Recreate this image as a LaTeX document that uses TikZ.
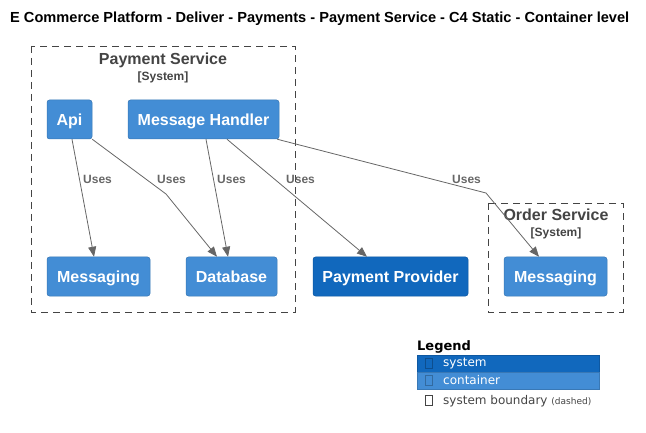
\documentclass[tikz,border=0pt]{standalone}
\usepackage{fontspec}
\setmainfont{Liberation Sans}
\newfontfamily\legendfont{DejaVu Sans}
\usetikzlibrary{arrows.meta}
\definecolor{contblue}{HTML}{438DD5}
\definecolor{sysblue}{HTML}{1168BD}
\definecolor{linegrey}{HTML}{666666}
\definecolor{textgrey}{HTML}{444444}

\begin{document}
\begin{tikzpicture}[x=1pt, y=-1pt,
	box/.style = {rounded corners=2.5pt, text=white, minimum height=39pt, inner sep=0pt, text height=11.5pt, text depth=0pt, font=\bfseries\fontsize{16}{19}\selectfont},
	container/.style = {box, fill=contblue, draw=contblue!85!black, line width=0.5pt},
	system/.style = {box, fill=sysblue, draw=sysblue!85!black, line width=0.5pt},
	boundary/.style = {draw=textgrey, line width=0.8pt, dash pattern=on 7pt off 5pt},
	btitle/.style = {text=textgrey, inner sep=0pt, text height=11.5pt, text depth=0pt, font=\bfseries\fontsize{16}{19}\selectfont},
	btype/.style = {text=textgrey, inner sep=0pt, text height=8.6pt, text depth=0pt, font=\bfseries\fontsize{12}{14}\selectfont},
	uses/.style = {draw=linegrey, line width=0.8pt, -{Triangle[length=10pt, width=8pt]}},
	usestext/.style = {anchor=west, inner sep=0pt, text height=8.6pt, text depth=0pt, text=linegrey, font=\bfseries\fontsize{12}{14}\selectfont},
	glyph/.style = {draw, minimum width=7pt, minimum height=10pt, inner sep=0pt, line width=0.5pt}]
		\useasboundingbox (0,0) rectangle (646,433);
		\node (title) [anchor=west, inner sep=0pt, font=\bfseries\fontsize{14.6}{17}\selectfont] at (10,19) {E Commerce Platform - Deliver - Payments - Payment Service - C4 Static - Container level};
		%
		\draw[boundary] (31,46) rectangle (295,312);
		\node (pstitle) [btitle] at (163,58.5) {Payment Service};
		\node (pstype) [btype] at (163,76) {[System]};
		\draw[boundary] (488,203) rectangle (623,312);
		\node (ostitle) [btitle] at (556,215) {Order Service};
		\node (ostype) [btype] at (556,232) {[System]};
		%
		\node (api) [container, minimum width=45pt] at (69.5,119.5) {Api};
		\node (handler) [container, minimum width=151pt] at (203.5,119.5) {Message Handler};
		\node (msgpay) [container, minimum width=103pt] at (98.5,276.5) {Messaging};
		\node (db) [container, minimum width=91pt] at (231.5,276.5) {Database};
		\node (provider) [system, minimum width=155pt] at (390.5,276.5) {Payment Provider};
		\node (msgorder) [container, minimum width=103pt] at (555.5,276.5) {Messaging};
		%
		\coordinate (bendA) at (166,194);
		\coordinate (bendB) at (486,193);
		\draw[uses] ([xshift=2.5pt]api.south) -- ([xshift=-4.5pt]msgpay.north);
		\draw[uses] (api.south east) -- (bendA) -- ([xshift=-14.5pt]db.north);
		\draw[uses] ([xshift=2.5pt]handler.south) -- ([xshift=-3.5pt]db.north);
		\draw[uses] ([xshift=23.5pt]handler.south) -- ([xshift=-23.5pt]provider.north);
		\draw[uses] ([xshift=-2pt]handler.south east) -- (bendB) -- ([xshift=-16.5pt]msgorder.north);
		\node (usesA) [usestext] at (83,179) {Uses};
		\node (usesB) [usestext] at (157,179) {Uses};
		\node (usesC) [usestext] at (217,179) {Uses};
		\node (usesD) [usestext] at (286,179) {Uses};
		\node (usesE) [usestext] at (452,179) {Uses};
		%
		\node (legend) [anchor=west, inner sep=0pt, font=\legendfont\bfseries\fontsize{13}{15}\selectfont] at (417,347) {Legend};
		\node (lsys) [fill=sysblue, draw=sysblue!85!black, line width=0.5pt, minimum width=182pt, minimum height=17pt, inner sep=0pt, anchor=north west] at (417,355) {};
		\node (lcont) [fill=contblue, draw=contblue!85!black, line width=0.5pt, minimum width=182pt, minimum height=17pt, inner sep=0pt, anchor=north west] at (417,372) {};
		\node (gsys) [glyph, draw=sysblue!75!black] at (428.5,363.5) {};
		\node (gcont) [glyph, draw=contblue!75!black] at (428.5,380.5) {};
		\node (gbound) [glyph, draw=textgrey] at (428.5,400) {};
		\node [anchor=west, inner sep=0pt, text=white, font=\legendfont\fontsize{12}{14}\selectfont] at (443,363.5) {system};
		\node [anchor=west, inner sep=0pt, text=white, font=\legendfont\fontsize{12}{14}\selectfont] at (443,380.5) {container};
		\node [anchor=base west, inner sep=0pt, text=textgrey, font=\legendfont\fontsize{12}{14}\selectfont] at (443,404) {system boundary {\fontsize{9}{10}\selectfont(dashed)}};
	\end{tikzpicture}
\end{document}
